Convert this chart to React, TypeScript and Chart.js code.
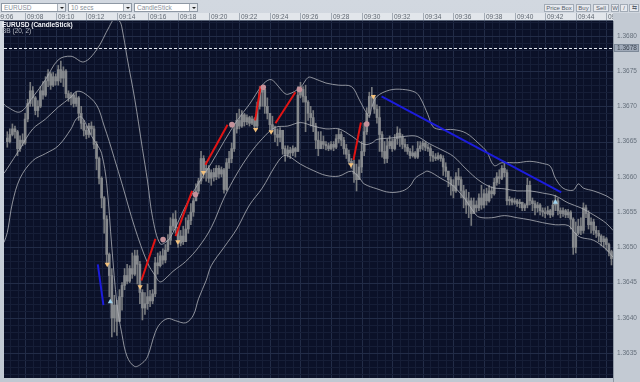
import React, { useEffect, useRef } from "react";
import { Chart, registerables } from "chart.js";

Chart.register(...registerables);

// Prices are stored as points above 1.3600 : price = 1.36 + points / 100000
const PRICE_BASE = 1.36;
const POINT = 0.00001;

// 10-second candles, first one at 09:06:50
const FIRST_CANDLE = "09:06:50";
const CANDLE_SECONDS = 10;
const FIRST_OPEN = 655;

const closes = [
  650, 660, 668, 664, 640, 652, 648, 682, 704, 722,
  712, 694, 700, 722, 716, 736, 746, 730, 742, 736,
  752, 740, 750, 718, 712, 716, 704, 712, 690, 676,
  666, 660, 672, 668, 646, 626, 598, 570, 540, 490,
  460, 400, 418, 395, 430, 446, 460, 452, 470, 462,
  488, 476, 436, 414, 420, 430, 424, 434, 478, 474,
  488, 482, 496, 510, 530, 540, 528, 506, 516, 508,
  526, 538, 550, 566, 580, 594, 626, 606, 612, 598,
  606, 600, 612, 604, 610, 582, 620, 626, 640, 668,
  680, 672, 688, 678, 684, 676, 682, 672, 700, 720,
  724, 700, 690, 674, 668, 660, 656, 666, 640, 632,
  638, 634, 640, 636, 716, 724, 714, 706, 690, 684,
  672, 652, 640, 650, 646, 644, 640, 646, 642, 654,
  660, 652, 640, 632, 622, 618, 604, 596, 614, 636,
  664, 690, 714, 712, 696, 684, 660, 636, 626, 644,
  650, 640, 654, 662, 656, 646, 642, 636, 630, 634,
  628, 640, 644, 648, 642, 640, 630, 628, 626, 630,
  626, 614, 608, 596, 588, 580, 600, 596, 580, 570,
  560, 566, 548, 560, 556, 570, 560, 576, 566, 580,
  576, 592, 600, 598, 612, 606, 566, 568, 564, 566,
  562, 564, 556, 560, 588, 566, 562, 556, 560, 552,
  550, 548, 552, 546, 560, 566, 552, 548, 552, 546,
  550, 540, 500, 520, 530, 524, 556, 548, 532, 536,
  524, 520, 516, 508, 512, 504, 494, 484,
];

const highs = [
  664, 668, 675, 672, 666, 658, 661, 690, 710, 734,
  728, 714, 708, 728, 735, 742, 752, 748, 748, 746,
  758, 764, 756, 752, 722, 720, 718, 720, 714, 700,
  680, 672, 676, 678, 672, 650, 628, 600, 572, 545,
  492, 470, 432, 425, 440, 450, 470, 476, 474, 492,
  496, 496, 480, 440, 436, 448, 439, 440, 486, 492,
  494, 498, 504, 518, 542, 548, 552, 524, 524, 530,
  542, 546, 562, 570, 590, 598, 636, 630, 622, 616,
  610, 612, 616, 616, 614, 612, 626, 636, 648, 676,
  690, 696, 694, 690, 688, 686, 686, 684, 706, 728,
  728, 720, 712, 688, 686, 672, 668, 670, 664, 644,
  644, 642, 644, 642, 728, 734, 728, 730, 708, 700,
  694, 676, 664, 664, 658, 650, 648, 650, 650, 660,
  668, 664, 656, 646, 638, 626, 624, 618, 624, 650,
  676, 698, 720, 727, 716, 702, 700, 664, 650, 654,
  658, 654, 660, 671, 668, 660, 654, 646, 640, 644,
  636, 650, 650, 651, 650, 646, 644, 636, 633, 634,
  632, 630, 620, 606, 600, 596, 606, 612, 600, 588,
  582, 578, 570, 570, 566, 576, 588, 582, 584, 588,
  586, 598, 606, 610, 616, 622, 610, 572, 570, 570,
  568, 568, 564, 562, 598, 594, 570, 566, 564, 562,
  556, 556, 558, 554, 566, 574, 570, 556, 556, 554,
  554, 552, 542, 536, 540, 542, 563, 560, 552, 542,
  540, 530, 524, 518, 516, 514, 506, 496,
];

const lows = [
  642, 648, 658, 655, 630, 636, 644, 646, 678, 700,
  700, 688, 685, 698, 710, 714, 728, 724, 728, 730,
  730, 734, 728, 712, 707, 702, 699, 700, 680, 668,
  658, 654, 656, 660, 640, 610, 590, 556, 520, 476,
  430, 373, 380, 375, 398, 411, 440, 448, 450, 456,
  460, 448, 420, 397, 405, 412, 416, 420, 430, 462,
  472, 476, 478, 494, 504, 524, 520, 500, 502, 504,
  512, 520, 532, 544, 566, 576, 590, 598, 594, 592,
  588, 594, 596, 598, 600, 577, 580, 612, 620, 636,
  662, 668, 670, 672, 674, 672, 674, 668, 668, 696,
  700, 690, 682, 664, 664, 650, 644, 650, 632, 622,
  628, 626, 630, 628, 636, 712, 706, 664, 680, 672,
  664, 640, 630, 640, 640, 638, 637, 638, 637, 640,
  648, 644, 632, 626, 618, 612, 592, 580, 600, 606,
  630, 660, 684, 700, 690, 676, 636, 628, 619, 620,
  640, 636, 638, 646, 643, 640, 636, 632, 626, 628,
  626, 626, 636, 638, 637, 636, 622, 622, 623, 624,
  622, 602, 600, 586, 574, 570, 578, 588, 570, 556,
  548, 542, 531, 552, 550, 552, 554, 556, 560, 564,
  570, 574, 588, 590, 596, 600, 560, 560, 560, 561,
  558, 556, 552, 552, 556, 560, 552, 546, 550, 546,
  544, 542, 546, 542, 544, 552, 546, 542, 544, 542,
  542, 526, 490, 492, 518, 518, 520, 542, 526, 520,
  518, 514, 508, 502, 500, 496, 488, 475,
];

// Bollinger Bands (20, 2), read at candle positions
const bbUpperIdx = [-1.3, 0, 5, 10, 15, 20, 25, 30, 35, 40, 42, 44, 45, 47, 50, 53, 55, 57, 60, 63, 65, 70, 75, 80, 85, 90, 95, 100, 103, 105, 108, 110, 115, 118, 120, 125, 130, 135, 138, 140, 142, 143, 145, 150, 155, 160, 162, 165, 167, 170, 175, 180, 185, 188, 191, 194, 200, 205, 210, 213, 215, 218, 222, 224, 226, 230, 235, 237.6];
const bbUpperVal = [703, 699, 692, 713, 738, 766, 771, 763, 780, 813, 824, 821, 811, 769, 710, 640, 594, 542, 505, 510, 521, 559, 591, 619, 650, 679, 703, 730, 738, 734, 721, 717, 727, 741, 740, 733, 730, 728, 710, 696, 686, 699, 714, 723, 724, 720, 712, 688, 671, 667, 667, 662, 647, 636, 616, 620, 620, 622, 619, 615, 598, 584, 581, 590, 584, 580, 573, 567];

const bbMiddleIdx = [-1.3, 0, 5, 10, 15, 20, 25, 27, 30, 35, 38, 40, 42, 45, 50, 55, 58, 60, 63, 65, 70, 75, 80, 85, 90, 95, 100, 105, 110, 115, 120, 125, 130, 135, 140, 143, 145, 150, 155, 160, 163, 165, 170, 175, 180, 185, 190, 195, 200, 205, 210, 215, 220, 225, 230, 235, 237.6];
const bbMiddleVal = [605, 612, 640, 668, 682, 699, 713, 721, 719, 702, 672, 650, 626, 590, 528, 478, 460, 451, 459, 466, 480, 500, 528, 570, 604, 632, 654, 670, 672, 677, 672, 668, 668, 658, 646, 648, 653, 655, 657, 658, 653, 648, 639, 629, 611, 595, 585, 583, 580, 580, 577, 573, 563, 556, 546, 534, 524];

const bbLowerIdx = [-1.3, 0, 2, 5, 10, 15, 20, 25, 27, 29, 31, 33, 35, 37, 39, 41, 43, 45, 47, 50, 53, 55, 58, 60, 63, 66, 70, 73, 75, 78, 80, 85, 90, 95, 100, 105, 108, 110, 115, 120, 125, 130, 135, 138, 140, 145, 150, 155, 158, 160, 163, 165, 170, 175, 180, 183, 185, 190, 195, 200, 205, 210, 215, 220, 223, 225, 230, 235, 237.6];
const bbLowerVal = [507, 521, 563, 598, 623, 633, 644, 668, 682, 685, 674, 658, 647, 633, 590, 500, 420, 376, 345, 331, 336, 345, 379, 392, 399, 396, 393, 404, 427, 453, 474, 500, 526, 560, 584, 615, 629, 630, 618, 609, 602, 601, 608, 599, 590, 583, 578, 580, 587, 598, 605, 608, 598, 587, 566, 550, 543, 542, 545, 542, 539, 535, 532, 531, 519, 514, 510, 497, 486];

// signal markers
const sellSignalIdx = [39.2, 52.1, 66.9, 76.9, 97.4, 103.5, 134.8, 143.6];
const sellSignalVal = [476, 444, 508, 606, 667, 664, 617, 714];
const exitSignalIdx = [61.1, 73.8, 88.1, 100.4, 114.6, 141];
const exitSignalVal = [511, 575, 674, 727, 724, 675];
const buySignalIdx = [40.4, 215];
const buySignalVal = [423, 564];

// trend segments: [startIdx, startVal, endIdx, endVal]
const redSegments = [
  [52.6, 453, 58.1, 512],
  [66, 516, 72.5, 580],
  [77.7, 617, 86.4, 674],
  [97.2, 680, 99.4, 729],
  [105.2, 676, 113, 720],
  [135.8, 624, 138.7, 677],
];
const blueSegments = [
  [35.5, 476, 37.7, 418],
  [146.8, 714, 217.3, 578],
];

const timeLabels = ["09:06", "09:08", "09:10", "09:12", "09:14", "09:16", "09:18", "09:20", "09:22", "09:24", "09:26", "09:28", "09:30", "09:32", "09:34", "09:36", "09:38", "09:40", "09:42", "09:44", "09:46"];
const priceLabels = ["1.3635", "1.3640", "1.3645", "1.3650", "1.3655", "1.3660", "1.3665", "1.3670", "1.3675", "1.3680"];
const priceBoxLabel = "1.3678";
const priceBoxPoints = 782;

const X_MIN = -1.3;
const X_MAX = 237.6;
const Y_MIN = 1.363147;
const Y_MAX = 1.36821;

const FONT = "'Liberation Sans', Arial, sans-serif";

const toPrice = (p: number) => PRICE_BASE + p * POINT;
const toSec = (t: string) => {
  const parts = t.split(":").map(Number);
  return parts[0] * 3600 + parts[1] * 60 + (parts[2] || 0);
};
const timeToIdx = (t: string) => (toSec(t) - toSec(FIRST_CANDLE)) / CANDLE_SECONDS;

const backdrop = {
  id: "backdrop",
  beforeDraw(chart: any) {
    const { ctx, chartArea: a, scales } = chart;
    const x = scales.x;
    const y = scales.y;
    const W = chart.width;
    const H = chart.height;
    ctx.save();
    // header band
    ctx.fillStyle = "#e2e6eb";
    ctx.fillRect(0, 0, W, a.top);
    // right axis panel
    ctx.fillStyle = "#c3cad3";
    ctx.fillRect(a.right, 0, W - a.right, H);
    ctx.fillStyle = "#8e98a4";
    ctx.fillRect(a.right, a.top, 1, H - a.top);
    // plot
    ctx.fillStyle = "#0b1128";
    ctx.fillRect(a.left, a.top, a.right - a.left, a.bottom - a.top);
    ctx.fillStyle = "#5a6478";
    ctx.fillRect(0, a.top - 1, a.right, 1);

    ctx.save();
    ctx.beginPath();
    ctx.rect(a.left, a.top, a.right - a.left, a.bottom - a.top);
    ctx.clip();
    const start = timeToIdx(timeLabels[0]);
    // vertical grid: every 30 s minor, every 2 min major
    for (let k = 0; ; k++) {
      const idx = start + k * 3;
      if (idx > X_MAX) break;
      const px = Math.round(x.getPixelForValue(idx));
      ctx.fillStyle = k % 4 === 0 ? "#222c47" : "#161e37";
      ctx.fillRect(px, a.top, 1, a.bottom - a.top);
    }
    // horizontal grid: 0.0001 minor, 0.0005 major
    for (let p = 320; p <= 830; p += 10) {
      const py = Math.round(y.getPixelForValue(toPrice(p)));
      ctx.fillStyle = p % 50 === 0 ? "#222c47" : "#161e37";
      ctx.fillRect(a.left, py, a.right - a.left, 1);
    }
    ctx.restore();

    // time header
    ctx.save();
    ctx.beginPath();
    ctx.rect(0, 0, a.right, a.top - 1);
    ctx.clip();
    ctx.font = `6.5px ${FONT}`;
    ctx.textBaseline = "middle";
    ctx.textAlign = "left";
    for (const t of timeLabels) {
      const px = Math.round(x.getPixelForValue(timeToIdx(t)));
      ctx.fillStyle = "#a4acb6";
      ctx.fillRect(px, 0, 1, a.top - 1);
      ctx.fillStyle = "#5f6771";
      ctx.fillText(t, px + 2, (a.top - 1) / 2 + 0.5);
    }
    ctx.restore();

    // price labels
    ctx.font = `6.5px ${FONT}`;
    ctx.textBaseline = "middle";
    ctx.textAlign = "left";
    ctx.fillStyle = "#66707c";
    for (const l of priceLabels) {
      const py = y.getPixelForValue(parseFloat(l));
      ctx.fillText(l, a.right + 4, py);
    }
    ctx.restore();
  },
  afterDatasetsDraw(chart: any) {
    const { ctx, chartArea: a, scales } = chart;
    const y = scales.y;
    ctx.save();
    ctx.font = `bold 6.5px ${FONT}`;
    ctx.textBaseline = "middle";
    ctx.textAlign = "left";
    ctx.fillStyle = "#f2f4f8";
    ctx.fillText("EURUSD (CandleStick)", 2, a.top + 4);
    ctx.font = `6.5px ${FONT}`;
    ctx.fillStyle = "#b4b9c2";
    ctx.fillText("BB (20, 2)", 2, a.top + 10);
    // price box
    const py = Math.round(y.getPixelForValue(toPrice(priceBoxPoints)));
    ctx.fillStyle = "#9fa9b8";
    ctx.fillRect(a.right + 1, py - 3, 25, 6);
    ctx.strokeStyle = "#7d8998";
    ctx.lineWidth = 1;
    ctx.strokeRect(a.right + 1.5, py - 3.5, 24, 7);
    ctx.fillStyle = "#3d4652";
    ctx.fillText(priceBoxLabel, a.right + 4, py + 0.5);
    ctx.restore();
  },
};

function Dropdown(props: { left: number; width: number; text: string }) {
  return (
    <div
      style={{
        position: "absolute",
        left: props.left,
        top: 3,
        width: props.width,
        height: 9,
        background: "#ffffff",
        border: "1px solid #8e98a4",
        boxSizing: "border-box",
        fontSize: 6.5,
        lineHeight: "7px",
        color: "#8a929c",
        paddingLeft: 2,
        overflow: "hidden",
        whiteSpace: "nowrap",
      }}
    >
      {props.text}
      <div
        style={{
          position: "absolute",
          right: 0,
          top: 0,
          width: 7,
          height: 7,
          background: "#e7eaee",
          borderLeft: "1px solid #a8b0ba",
        }}
      >
        <div
          style={{
            position: "absolute",
            left: 1.5,
            top: 2.5,
            width: 0,
            height: 0,
            borderLeft: "2px solid transparent",
            borderRight: "2px solid transparent",
            borderTop: "2px solid #222",
          }}
        />
      </div>
    </div>
  );
}

function ToolButton(props: { left: number; width: number; text: string }) {
  return (
    <div
      style={{
        position: "absolute",
        left: props.left,
        top: 4,
        width: props.width,
        height: 8,
        background: "#e6e9ee",
        border: "1px solid #a2abb6",
        boxSizing: "border-box",
        fontSize: 6,
        lineHeight: "6px",
        color: "#56606b",
        textAlign: "center",
        whiteSpace: "nowrap",
        overflow: "hidden",
      }}
    >
      {props.text}
    </div>
  );
}

export default function App() {
  const canvasRef = useRef<HTMLCanvasElement | null>(null);

  useEffect(() => {
    document.body.style.margin = "0";
    const canvas = canvasRef.current;
    if (!canvas) return;

    const opens = closes.map((_, i) => (i === 0 ? FIRST_OPEN : closes[i - 1]));
    const wicks = closes.map((c, i) => ({
      x: i,
      y: [toPrice(Math.min(lows[i], opens[i], c)), toPrice(Math.max(highs[i], opens[i], c))],
    }));
    const bodies = closes.map((c, i) => {
      const lo = Math.min(opens[i], c);
      const hi = Math.max(opens[i], c);
      return { x: i, y: [toPrice(lo), toPrice(hi === lo ? hi + 1 : hi)] };
    });
    const pts = (idx: number[], val: number[]) => idx.map((v, i) => ({ x: v, y: toPrice(val[i]) }));

    const bbStyle = {
      type: "line" as const,
      borderColor: "rgba(175,178,184,0.8)",
      borderWidth: 1,
      pointRadius: 0,
      tension: 0.35,
      order: 3,
    };

    const segs = (list: number[][], color: string) =>
      list.map((s) => ({
        type: "line" as const,
        data: [
          { x: s[0], y: toPrice(s[1]) },
          { x: s[2], y: toPrice(s[3]) },
        ],
        borderColor: color,
        borderWidth: 2,
        pointRadius: 0,
        order: 1,
      }));

    const chart = new Chart(canvas, {
      type: "bar",
      data: {
        datasets: [
          {
            type: "scatter" as const,
            data: pts(sellSignalIdx, sellSignalVal),
            pointStyle: "triangle",
            rotation: 180,
            pointRadius: 3,
            backgroundColor: "#f4c27c",
            borderColor: "#f4c27c",
            borderWidth: 0,
            order: 0,
          },
          {
            type: "scatter" as const,
            data: pts(exitSignalIdx, exitSignalVal),
            pointStyle: "circle",
            pointRadius: 2.8,
            backgroundColor: "#c4919a",
            borderColor: "#c4919a",
            borderWidth: 0,
            order: 0,
          },
          {
            type: "scatter" as const,
            data: pts(buySignalIdx, buySignalVal),
            pointStyle: "triangle",
            pointRadius: 3,
            backgroundColor: "#9fd2ee",
            borderColor: "#9fd2ee",
            borderWidth: 0,
            order: 0,
          },
          ...segs(redSegments, "#e21414"),
          ...segs(blueSegments, "#1c1cdc"),
          {
            type: "line" as const,
            data: [
              { x: X_MIN, y: toPrice(priceBoxPoints) },
              { x: X_MAX, y: toPrice(priceBoxPoints) },
            ],
            borderColor: "#e8ecf2",
            borderWidth: 1,
            borderDash: [3, 2],
            pointRadius: 0,
            order: 2,
          },
          { ...bbStyle, data: pts(bbUpperIdx, bbUpperVal) },
          { ...bbStyle, data: pts(bbMiddleIdx, bbMiddleVal) },
          { ...bbStyle, data: pts(bbLowerIdx, bbLowerVal) },
          {
            type: "bar" as const,
            data: bodies as any,
            backgroundColor: "#86898d",
            barThickness: 2,
            grouped: false,
            borderWidth: 0,
            order: 4,
          },
          {
            type: "bar" as const,
            data: wicks as any,
            backgroundColor: "#76797d",
            barThickness: 1,
            grouped: false,
            borderWidth: 0,
            order: 5,
          },
        ],
      },
      options: {
        responsive: false,
        animation: false,
        events: [],
        layout: { padding: { top: 8, right: 27, left: 0, bottom: 0 } },
        plugins: { legend: { display: false }, tooltip: { enabled: false } },
        scales: {
          x: { type: "linear", min: X_MIN, max: X_MAX, display: false, offset: false, grid: { offset: false } },
          y: { type: "linear", min: Y_MIN, max: Y_MAX, display: false },
        },
      } as any,
      plugins: [backdrop],
    } as any);

    return () => chart.destroy();
  }, []);

  return (
    <div
      style={{
        position: "relative",
        width: 640,
        height: 382,
        overflow: "hidden",
        background: "linear-gradient(#d2d8e0, #c0c8d2)",
        fontFamily: FONT,
      }}
    >
      <Dropdown left={1} width={65} text="EURUSD" />
      <Dropdown left={68} width={64} text="10 secs" />
      <Dropdown left={134} width={64} text="CandleStick" />
      <ToolButton left={544} width={30} text="Price Box" />
      <ToolButton left={576} width={15} text="Buy" />
      <ToolButton left={593} width={16} text="Sell" />
      <ToolButton left={611} width={8} text="W" />
      <ToolButton left={620} width={8} text="/" />
      <ToolButton left={629} width={10} text="⇆" />
      <canvas
        ref={canvasRef}
        width={640}
        height={369}
        style={{ position: "absolute", left: 0, top: 13, width: 640, height: 369, display: "block" }}
      />
    </div>
  );
}
